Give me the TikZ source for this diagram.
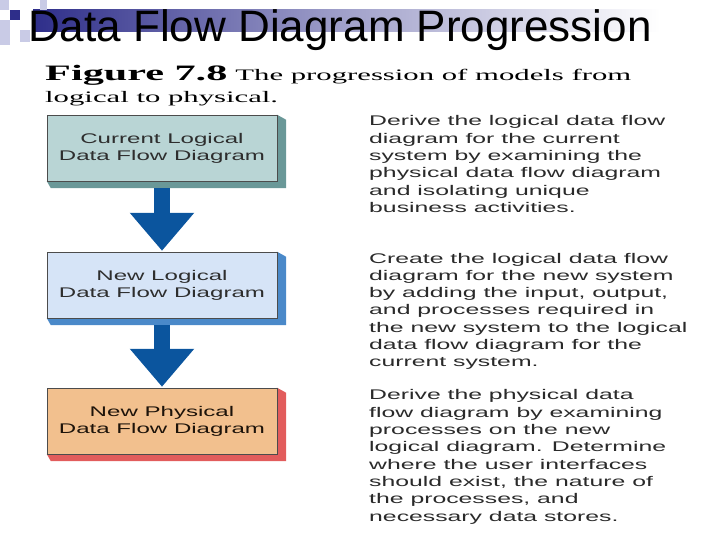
\documentclass[tikz,border=0pt]{standalone}
\usepackage{fontspec}
\usepackage{xcolor}
\usepackage{tikz}
\usetikzlibrary{arrows.meta, positioning, calc}
\setmainfont{Liberation Sans}
\newfontfamily\titlefont{Liberation Sans}
\newfontfamily\capfont[FakeStretch=1.92]{Liberation Serif}
\newfontfamily\boxfont[FakeStretch=1.72]{Liberation Sans}
\newfontfamily\descfont[FakeStretch=1.77]{Liberation Sans}
\definecolor{slidenavy}{HTML}{2E2E8A}
\definecolor{slidelav}{HTML}{C9CBE6}
\definecolor{curface}{HTML}{B9D5D5}
\definecolor{curside}{HTML}{6A9898}
\definecolor{newface}{HTML}{D6E4F7}
\definecolor{newside}{HTML}{4A89C9}
\definecolor{physface}{HTML}{F2C08E}
\definecolor{physside}{HTML}{E25C5C}
\definecolor{flowblue}{HTML}{0B559E}
\definecolor{desctext}{HTML}{2A2A2A}
\pgfdeclarelayer{background}
\pgfsetlayers{background,main}
\tikzset{
  stage/.style = {
    rectangle, draw=black!70, thin,
    minimum width=230pt, minimum height=66pt, inner sep=0pt,
    text centered, align=center, text=black!82,
    font=\boxfont\fontsize{14}{17}\selectfont
  },
  desc/.style = {
    anchor=base west, align=left, inner sep=0pt, text=desctext,
    font=\descfont\fontsize{14}{17.3}\selectfont
  },
  flowarrow/.style = {
    -{Triangle[width=62pt, length=38pt]}, line width=16pt, draw=flowblue
  }
}
% 3D edge behind a stage box
\newcommand{\stageside}[2]{%
  \fill[#2] ($(#1.south west)$) -- ($(#1.south west)+(4,7)$) -- ($(#1.south east)+(9,7)$)
    -- ($(#1.north east)+(9,5)$) -- ($(#1.north east)$) -- cycle;
}

\begin{document}
\begin{tikzpicture}[x=1pt, y=-1pt]
  \useasboundingbox (0,0) rectangle (720,540);
  % Slide decoration
  \shade[left color=slidenavy, right color=white, middle color=slidenavy!45] (33,10) rectangle (660,32);
  \fill[slidelav] (0,0) rectangle (9,10);
  \fill[slidelav] (0,20) rectangle (10,45);
  \fill[slidelav] (20,30) rectangle (30,42);
  \fill[slidelav] (40,0) rectangle (47,10);
  \fill[slidenavy] (10,10) rectangle (20,20);

  % Nodes (base = last line)
  \node[anchor=base west, inner sep=0pt, font=\titlefont\fontsize{44}{48}\selectfont] (title) at (28,42) {Data Flow Diagram Progression};
  \node[anchor=base west, inner sep=0pt, align=left, font=\capfont\fontsize{16}{22}\selectfont] (caption) at (45,103)
    {{\bfseries\fontsize{22}{22}\selectfont Figure 7.8}\hspace{8pt}The progression of models from\\logical to physical.};

  \node[stage, fill=curface] (curlog) at (162,148) {Current Logical\\Data Flow Diagram};
  \node[stage, fill=newface] (newlog) at (162,285) {New Logical\\Data Flow Diagram};
  \node[stage, fill=physface, text=black!85!brown] (newphys) at (162,421) {New Physical\\Data Flow Diagram};

  \begin{pgfonlayer}{background}
    \stageside{curlog}{curside}
    \stageside{newlog}{newside}
    \stageside{newphys}{physside}
  \end{pgfonlayer}

  \node[desc] (derivelog) at (369,212.5) {Derive the logical data flow\\diagram for the current\\system by examining the\\physical data flow diagram\\and isolating unique\\business activities.};
  \node[desc] (createlog) at (369,366.8) {Create the logical data flow\\diagram for the new system\\by adding the input, output,\\and processes required in\\the new system to the logical\\data flow diagram for the\\current system.};
  \node[desc] (derivephys) at (369,521) {Derive the physical data\\flow diagram by examining\\processes on the new\\logical diagram. Determine\\where the user interfaces\\should exist, the nature of\\the processes, and\\necessary data stores.};

  % Connections
  \draw[flowarrow] ([yshift=-7pt]curlog.south) -- ([yshift=1pt]newlog.north);
  \draw[flowarrow] ([yshift=-7pt]newlog.south) -- ([yshift=1pt]newphys.north);
\end{tikzpicture}
\end{document}
